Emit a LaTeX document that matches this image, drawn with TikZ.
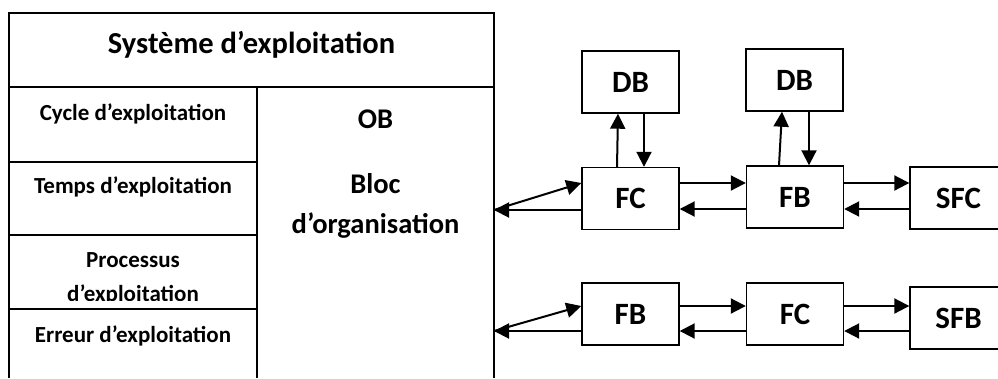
\documentclass[tikz,border=0pt]{standalone}
\usepackage{fontspec}
\setmainfont{Carlito}
\usetikzlibrary{arrows.meta}
\begin{document}
\begin{tikzpicture}[x=1pt,y=-1pt,
  grid/.style={line width=2pt},
  blk/.style={draw, line width=1.4pt, minimum width=97pt, minimum height=62pt,
    inner sep=0pt, font=\bfseries\fontsize{31}{34}\selectfont},
  arr/.style={line width=2pt, -{Triangle[length=15pt,width=15pt]}},
  cell/.style={font=\bfseries\fontsize{23}{26}\selectfont, anchor=base, inner sep=0pt},
  big/.style={font=\bfseries\fontsize{28.5}{32}\selectfont, anchor=base, inner sep=0pt},
  title/.style={font=\bfseries\fontsize{30.5}{34}\selectfont, anchor=base, inner sep=0pt}]
\useasboundingbox (0,0) rectangle (998,378);

% operating-system table
\draw[grid, line join=miter] (9,378) -- (9,13) -- (494,13) -- (494,378);
\draw[grid] (9,87) -- (494,87);
\draw[grid] (257,87) -- (257,378);
\draw[grid] (9,162) -- (257,162);
\draw[grid] (9,235) -- (257,235);
\draw[grid] (9,309) -- (257,309);

\node[title] (sys) at (251.5,53) {Système d’exploitation};
\node[cell] (cyc) at (133,120) {Cycle d’exploitation};
\node[cell] (tps) at (133,193) {Temps d’exploitation};
\node[cell] (pro) at (133,267) {Processus};
\begin{scope}
  \clip (9,236) rectangle (257,300);
  \node[cell] (pro2) at (133,301) {d’exploitation};
\end{scope}
\node[cell] (err) at (133,342) {Erreur d’exploitation};

\node[big] (ob) at (375.5,128) {OB};
\node[big] (bloc) at (375.5,193) {Bloc};
\node[big] (org) at (375.5,233) {d’organisation};

% attachment points on the organisation block edge
\coordinate (t1) at (494,210);
\coordinate (t2) at (494,331);

% function blocks
\node[blk] (db1) at (630.5,82) {DB};
\node[blk] (db2) at (794.5,80) {DB};
\node[blk] (fc1) at (630.5,198.5) {FC};
\node[blk] (fb1) at (795,197) {FB};
\node[blk] (sfc) at (958.5,198) {SFC};
\node[blk] (fb2) at (630.5,314) {FB};
\node[blk] (fc2) at (795,314) {FC};
\node[blk] (sfb) at (958.5,318) {SFB};

% upper chain
\draw[arr] (t1) -- (fc1.west |- 0,183);
\draw[arr] (fc1.west |- 0,210) -- (t1);
\draw[arr] (fc1.east |- 0,183) -- (fb1.west |- 0,183);
\draw[arr] (fb1.west |- 0,209) -- (fc1.east |- 0,209);
\draw[arr] (fb1.east |- 0,183) -- (sfc.west |- 0,183);
\draw[arr] (sfc.west |- 0,209) -- (fb1.east |- 0,209);
\draw[arr] (fc1.north -| 617,0) -- (db1.south -| 618,0);
\draw[arr] (db1.south -| 644,0) -- (fc1.north -| 644,0);
\draw[arr] (fb1.north -| 779,0) -- (db2.south -| 782,0);
\draw[arr] (db2.south -| 809,0) -- (fb1.north -| 809,0);

% lower chain
\draw[arr] (t2) -- (fb2.west |- 0,306);
\draw[arr] (fb2.west |- 0,331) -- (t2);
\draw[arr] (fb2.east |- 0,306) -- (fc2.west |- 0,306);
\draw[arr] (fc2.west |- 0,331) -- (fb2.east |- 0,331);
\draw[arr] (fc2.east |- 0,306) -- (sfb.west |- 0,306);
\draw[arr] (sfb.west |- 0,331) -- (fc2.east |- 0,331);
\end{tikzpicture}
\end{document}
